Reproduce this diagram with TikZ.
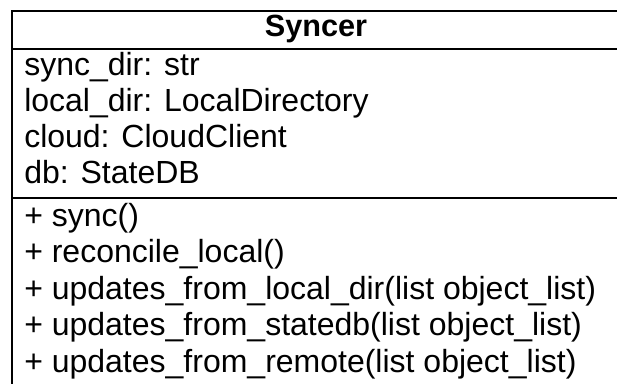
\documentclass[tikz,border=0pt]{standalone}
\usepackage{fontspec}
\setmainfont{Liberation Sans}
\begin{document}
\begin{tikzpicture}[x=0.75pt,y=-0.75pt,
  boxline/.style={draw=black,line width=1.5pt},
  member/.style={anchor=base west,inner sep=0pt,font=\fontsize{24}{24}\selectfont},
  titletext/.style={anchor=base,inner sep=0pt,font=\fontsize{23}{23}\selectfont\bfseries}]
\useasboundingbox (0,0) rectangle (617,383);
\clip (0,0) rectangle (617,383);
\fill[white] (0,0) rectangle (617,383);
\coordinate (tl) at (11.5,11);
\coordinate (br) at (620.5,420);
\draw[boxline] (tl) rectangle (br);
\coordinate (s1l) at (11.5,48.5);
\coordinate (s1r) at (620.5,48.5);
\coordinate (s2l) at (11.5,197.5);
\coordinate (s2r) at (620.5,197.5);
\draw[boxline] (s1l) -- (s1r);
\draw[boxline] (s2l) -- (s2r);
\node[titletext] (title) at (316,36) {Syncer};
\node[member] (a1) at (24,75) {sync\_dir: str};
\node[member] (a2) at (24,111) {local\_dir: LocalDirectory};
\node[member] (a3) at (24,147) {cloud: CloudClient};
\node[member] (a4) at (24,183) {db: StateDB};
\node[member] (m1) at (24,226) {+ sync()};
\node[member] (m2) at (24,262.5) {+ reconcile\_local()};
\node[member] (m3) at (24,299) {+ updates\_from\_local\_dir(list object\_list)};
\node[member] (m4) at (24,335.5) {+ updates\_from\_statedb(list object\_list)};
\node[member] (m5) at (24,372) {+ updates\_from\_remote(list object\_list)};
\end{tikzpicture}
\end{document}
